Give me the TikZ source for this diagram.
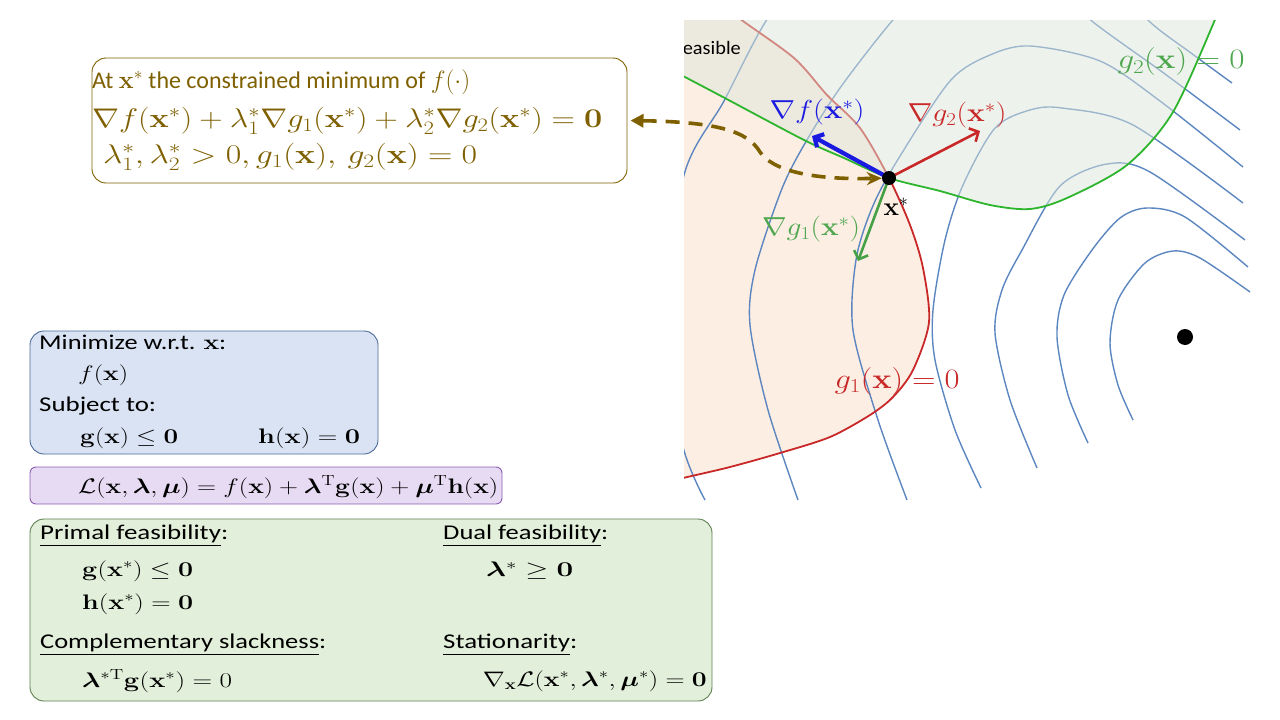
\RequirePackage{fix-cm}
\documentclass[tikz,border=0pt]{standalone}
\usepackage{graphicx}
\usepackage{amsmath,amssymb,bm}
\usepackage[no-math]{fontspec}
\setmainfont{Carlito}
\usetikzlibrary{arrows.meta}
\definecolor{kbrown}{HTML}{7F6000}
\definecolor{peachf}{HTML}{FCEEE3}
\definecolor{greenf}{HTML}{DEE6DA}
\definecolor{contb}{HTML}{5B86BF}
\definecolor{redc}{HTML}{C82828}
\definecolor{greenc}{HTML}{2DB52D}
\definecolor{labgreen}{HTML}{4EA64E}
\definecolor{arrgreen}{HTML}{46A046}
\definecolor{arrblue}{HTML}{1A1AE0}
\definecolor{bxblue}{HTML}{DAE3F3}
\definecolor{bxblueline}{HTML}{4A6A98}
\definecolor{bxpurple}{HTML}{E7DBF3}
\definecolor{bxpurpleline}{HTML}{8A5CB0}
\definecolor{bxgreen}{HTML}{E2EFDA}
\definecolor{bxgreenline}{HTML}{5E7F50}
\newcommand{\fsTop}{\fontsize{24}{29}\selectfont}
\newcommand{\fsTopM}{\fontsize{27}{32}\selectfont}
\newcommand{\fsTopMs}{\fontsize{25}{30}\selectfont}
\newcommand{\fsBox}{\fontsize{21}{25}\selectfont}
\newcommand{\fsLab}{\fontsize{26}{30}\selectfont}
\newcommand{\fsG}{\fontsize{28}{32}\selectfont}
\newcommand{\bx}{\mathbf{x}}
\newcommand{\sx}[2]{\resizebox{#1}{\height}{#2}}
\begin{document}
\begin{tikzpicture}[x=1pt,y=-1pt,
  panel/.style={draw, rounded corners=14pt, line width=0.9pt, inner sep=0pt},
  txt/.style={inner sep=0pt, anchor=west},
  cont/.style={draw=contb, line width=1.4pt},
  vecarrow/.style={line width=2.6pt, -{Straight Barb[length=7pt,width=15pt]}},
  dashconn/.style={draw=kbrown, line width=3.6pt, dash pattern=on 14pt off 9pt,
     {Triangle[length=13pt,width=13pt]}-{Stealth[length=15pt,width=13pt]}, shorten <=3pt},
]
\useasboundingbox (0,0) rectangle (1280,720);

% ---------- plot ----------
\begin{scope}
\clip (684,20) rectangle (1280,720);
\fill[peachf] plot[smooth] coordinates {(735,10) (739,18) (794,58) (827,95) (860,128) (889,178) (910,225) (923,268) (929,322) (913,370) (893,397) (870,415) (830,437) (780,453) (730,467) (683,478) (640,488)} -- (600,488) -- (600,0) -- (735,0) -- cycle;
% contours
\draw[cont] plot[smooth] coordinates {(1133,420) (1118,385) (1110,343) (1118,300) (1145,263) (1173,251) (1200,258) (1250,292)};
\draw[cont] plot[smooth] coordinates {(1088,443) (1068,395) (1057,337) (1064,295) (1092,250) (1120,218) (1147,208) (1185,217) (1248,267)};
\draw[cont] plot[smooth] coordinates {(1037,468) (1010,400) (995,333) (1002,290) (1022,250) (1060,186) (1107,164) (1150,172) (1245,240)};
\draw[cont] plot[smooth] coordinates {(981,488) (955,430) (935,360) (933,310) (945,240) (963,185) (995,128) (1030,110) (1062,108) (1133,125) (1243,203)};
\draw[cont] plot[smooth] coordinates {(907,500) (878,420) (853,330) (856,260) (872,208) (897,161) (950,81) (990,55) (1030,46) (1100,61) (1160,101) (1243,167)};
\draw[cont] plot[smooth] coordinates {(798,500) (768,410) (750,325) (755,270) (781,191) (804,145) (840,88) (892,21) (940,-30) (1000,-50) (1060,-10) (1093,22) (1165,74) (1240,130)};
\draw[cont] plot[smooth] coordinates {(705,500) (683,447) (662,330) (684,175) (724,101) (766,21) (820,-50) (950,-110) (1100,-30) (1150,22) (1191,53) (1232,83)};
% g1 = 0
\draw[redc, line width=1.8pt] plot[smooth] coordinates {(735,10) (739,18) (794,58) (827,95) (860,128) (889,178) (910,225) (923,268) (929,322) (913,370) (893,397) (870,415) (830,437) (780,453) (730,467) (683,478) (640,488)};
% g2 region
\fill[greenf, opacity=0.5] plot[smooth] coordinates {(660,64) (683,76) (721,96) (804,140) (844,158) (889,178) (940,191) (990,205) (1030,209) (1067,198) (1127,165) (1173,112) (1217,15) (1220,5)} -- (1220,0) -- (600,0) -- (600,64) -- cycle;
\draw[greenc, line width=1.8pt] plot[smooth] coordinates {(660,64) (683,76) (721,96) (804,140) (844,158) (889,178) (940,191) (990,205) (1030,209) (1067,198) (1127,165) (1173,112) (1217,15) (1220,5)};
\node[txt, anchor=east, font=\fontsize{19}{22}\selectfont] (feas) at (741,48) {\sx{67pt}{Feasible}};
\end{scope}

% ---------- vectors at x* ----------
\coordinate (xs) at (889,178);
\coordinate (fend) at (812,136);
\coordinate (g2end) at (980,131);
\coordinate (g1end) at (858,261);
\draw[vecarrow, draw=arrblue, line width=4.2pt] (xs) -- (fend);
\draw[vecarrow, draw=redc] (xs) -- (g2end);
\draw[vecarrow, draw=arrgreen] (xs) -- (g1end);
\node[circle, fill=black, inner sep=0pt, minimum size=14pt] (xstar) at (xs) {};
\node[circle, fill=black, inner sep=0pt, minimum size=16pt] (xmin) at (1185,337) {};

\node[inner sep=0pt, text=arrblue, font=\fsLab] (lf) at (817,112) {\sx{95pt}{$\nabla f(\bx^*)$}};
\node[inner sep=0pt, text=redc, font=\fsLab] (lg2) at (957,115) {\sx{99pt}{$\nabla g_2(\bx^*)$}};
\node[inner sep=0pt, text=labgreen, font=\fsLab] (lg1) at (811,229) {\sx{98pt}{$\nabla g_1(\bx^*)$}};
\node[inner sep=0pt, font=\fsLab] (lxs) at (896,207) {\sx{25pt}{$\bx^*$}};
\node[inner sep=0pt, text=labgreen, font=\fsG] (lg2z) at (1181,62) {\sx{127pt}{$g_2(\bx)=0$}};
\node[inner sep=0pt, text=redc, font=\fsG] (lg1z) at (897,381) {\sx{125pt}{$g_1(\bx)=0$}};

% ---------- top box ----------
\node[panel, draw=kbrown, fill=white, minimum width=535pt, minimum height=125pt] (topbox) at (359.5,120.5) {};
\node[txt, text=kbrown, font=\fsTop] (t1) at (92,82) {At {\fsTopMs$\bx^*$} the constrained minimum of {\fsTopMs$f(\cdot)$}};
\node[txt, text=kbrown, font=\fsTopM] (t2) at (92,121) {\sx{510pt}{$\nabla f(\bx^*)+\lambda_1^*\nabla g_1(\bx^*)+\lambda_2^*\nabla g_2(\bx^*)=\mathbf{0}$}};
\node[txt, text=kbrown, font=\fsTopM] (t3) at (103,157) {\sx{374pt}{$\lambda_1^*,\lambda_2^*>0,g_1(\bx),\,g_2(\bx)=0$}};

\draw[dashconn] (topbox.east) .. controls (720,122) and (748,132) .. (760,152) .. controls (772,170) and (810,180) .. (xstar);

% ---------- problem box ----------
\node[panel, draw=bxblueline, fill=bxblue, minimum width=348pt, minimum height=123pt] (probbox) at (204,392.5) {};
\node[txt, font=\fsBox] (p1) at (39,342) {\sx{187pt}{Minimize w.r.t. $\bx$:}};
\node[txt, font=\fsBox] (p2) at (78,375) {\sx{50pt}{$f(\bx)$}};
\node[txt, font=\fsBox] (p3) at (39,406) {\sx{117pt}{Subject to:}};
\node[txt, font=\fsBox] (p4) at (80,438) {\sx{98pt}{$\mathbf{g}(\bx)\leq\mathbf{0}$}};
\node[txt, font=\fsBox] (p5) at (258,438) {\sx{102pt}{$\mathbf{h}(\bx)=\mathbf{0}$}};

% ---------- Lagrangian box ----------
\node[panel, draw=bxpurpleline, fill=bxpurple, minimum width=472pt, minimum height=37pt, rounded corners=6pt] (lagbox) at (266,485.5) {};
\node[txt, font=\fsBox] (lag) at (78,487) {\sx{420pt}{$\mathcal{L}(\bx,\bm{\lambda},\bm{\mu})=f(\bx)+\bm{\lambda}^{\mathrm{T}}\mathbf{g}(\bx)+\bm{\mu}^{\mathrm{T}}\mathbf{h}(\bx)$}};

% ---------- KKT box ----------
\node[panel, draw=bxgreenline, fill=bxgreen, minimum width=682pt, minimum height=182pt] (kktbox) at (371,610) {};
\node[txt, font=\fsBox] (k1) at (40,536) {\sx{188pt}{\underline{Primal feasibility}:}};
\node[txt, font=\fsBox] (k2) at (82,571) {\sx{111pt}{$\mathbf{g}(\bx^*)\leq\mathbf{0}$}};
\node[txt, font=\fsBox] (k3) at (82,604) {\sx{111pt}{$\mathbf{h}(\bx^*)=\mathbf{0}$}};
\node[txt, font=\fsBox] (k4) at (40,645) {\sx{286pt}{\underline{Complementary slackness}:}};
\node[txt, font=\fsBox] (k5) at (82,681) {\sx{150pt}{$\bm{\lambda}^{*\mathrm{T}}\mathbf{g}(\bx^*)=0$}};
\node[txt, font=\fsBox] (k6) at (443,536) {\sx{165pt}{\underline{Dual feasibility}:}};
\node[txt, font=\fsBox] (k7) at (486,571) {\sx{87pt}{$\bm{\lambda}^*\geq\mathbf{0}$}};
\node[txt, font=\fsBox] (k8) at (443,645) {\sx{134pt}{\underline{Stationarity}:}};
\node[txt, anchor=east, font=\fsBox] (k9) at (707,681) {\sx{224pt}{$\nabla_{\bx}\mathcal{L}(\bx^*,\bm{\lambda}^*,\bm{\mu}^*)=\mathbf{0}$}};
\end{tikzpicture}
\end{document}
